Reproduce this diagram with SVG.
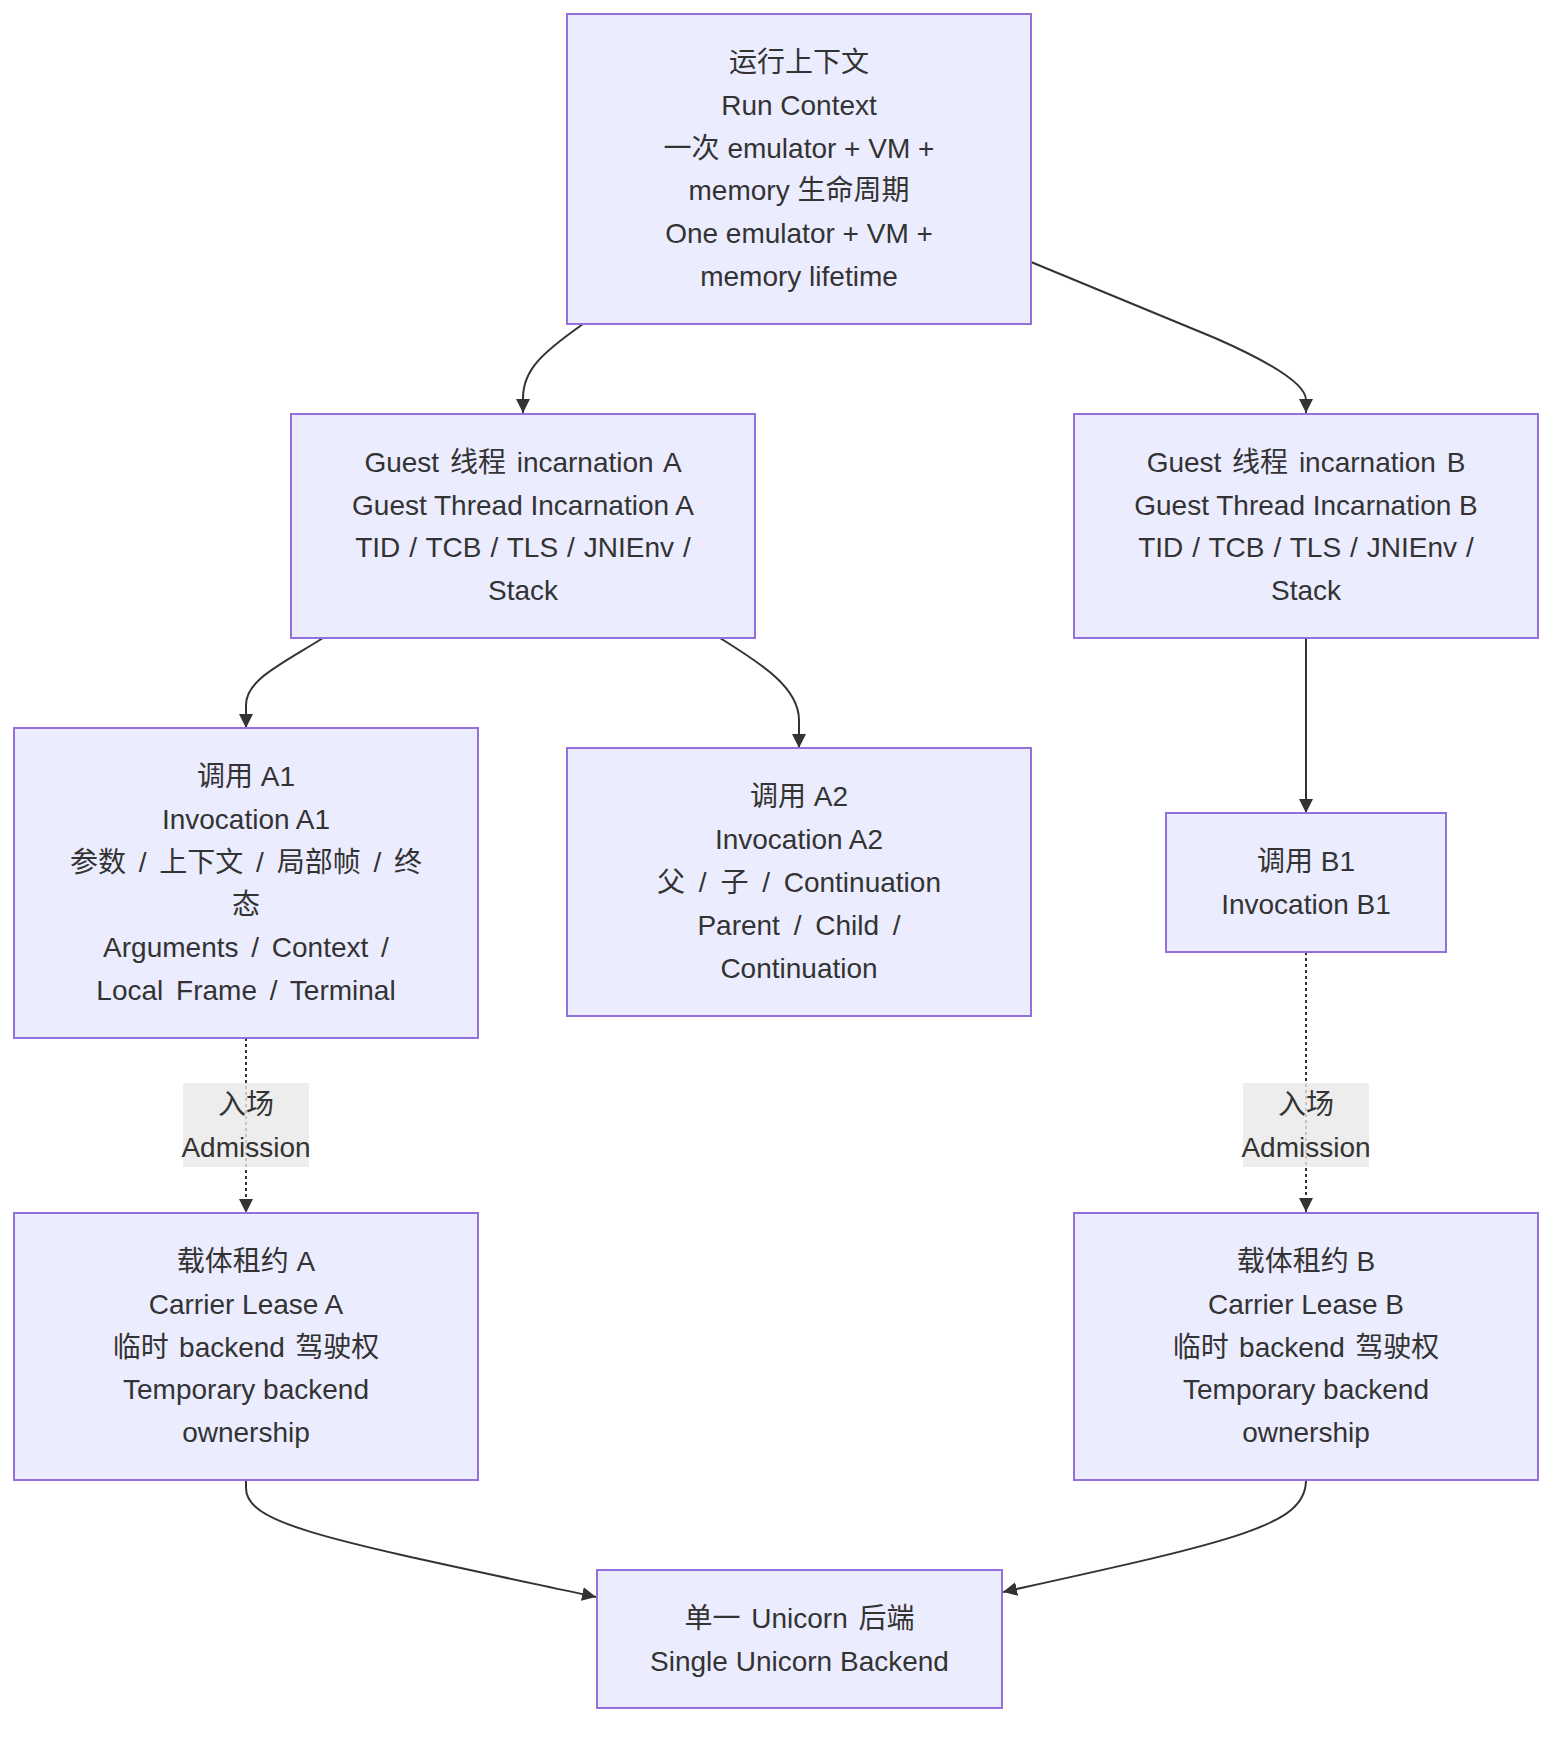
<svg xmlns="http://www.w3.org/2000/svg" width="1568" height="1742" viewBox="0 0 1568 1742">
<defs>
<style>
.node rect{fill:#ECECFF;stroke:#9370DB;stroke-width:2}
text{font-family:"Liberation Sans","Noto Sans CJK SC",sans-serif;font-size:28px;fill:#333333;text-anchor:middle}
.edge{fill:none;stroke:#333333;stroke-width:2}
.dotted{stroke-dasharray:3 3}
.lbl rect{fill:rgba(232,232,232,0.8);stroke:none}
.ws1{word-spacing:1.2px}
.ws2{word-spacing:2.5px}
.ws3{word-spacing:3px}
.ws5{word-spacing:5px}
.ws6{word-spacing:6px}
</style>
<marker id="arrow" viewBox="0 0 10 10" refX="10" refY="5" markerUnits="userSpaceOnUse" markerWidth="14" markerHeight="14" orient="auto">
<path d="M0,0 L10,5 L0,10 z" fill="#333333"/>
</marker>
</defs>
<rect width="1568" height="1742" fill="#ffffff"/>

<g id="connectors">
<path class="edge" d="M583,324 C542,353 523,370 523,398 L523,413" marker-end="url(#arrow)"/>
<path class="edge" d="M1031,262 L1215,338 Q1306,378 1306,400 L1306,413" marker-end="url(#arrow)"/>
<path class="edge" d="M323,638 C280,665 246,680 246,705 L246,728" marker-end="url(#arrow)"/>
<path class="edge" d="M720,638 C762,664 799,688 799,720 L799,748" marker-end="url(#arrow)"/>
<path class="edge" d="M1306,638 L1306,813" marker-end="url(#arrow)"/>
<path class="edge dotted" d="M246,1038 L246,1213" marker-end="url(#arrow)"/>
<path class="edge dotted" d="M1306,952 L1306,1212" marker-end="url(#arrow)"/>
<path class="edge" d="M246,1480 L246,1488 C246,1525 330,1540 596,1597" marker-end="url(#arrow)"/>
<path class="edge" d="M1306,1480 C1306,1525 1240,1540 1003,1592" marker-end="url(#arrow)"/>
<g class="lbl" id="label-admission-a">
<rect x="183" y="1083" width="126" height="84"/>
<text x="246" y="1113.5">入场</text>
<text x="246" y="1156.5">Admission</text>
</g>
<g class="lbl" id="label-admission-b">
<rect x="1243" y="1083" width="126" height="84"/>
<text x="1306" y="1113.5">入场</text>
<text x="1306" y="1156.5">Admission</text>
</g>
</g>

<g class="node" id="run-context">
<rect x="567" y="14" width="464" height="310"/>
<text x="799" y="71.7">运行上下文</text>
<text x="799" y="114.6">Run Context</text>
<text x="799" y="157.6">一次 emulator + VM +</text>
<text x="799" y="200.4">memory 生命周期</text>
<text x="799" y="243.3">One emulator + VM +</text>
<text x="799" y="286.2">memory lifetime</text>
</g>

<g class="node" id="guest-a">
<rect x="291" y="414" width="464" height="224"/>
<text class="ws3" x="523" y="471.6">Guest 线程 incarnation A</text>
<text x="523" y="514.5">Guest Thread Incarnation A</text>
<text class="ws1" x="523" y="557.4">TID / TCB / TLS / JNIEnv /</text>
<text x="523" y="600.3">Stack</text>
</g>

<g class="node" id="guest-b">
<rect x="1074" y="414" width="464" height="224"/>
<text class="ws3" x="1306" y="471.6">Guest 线程 incarnation B</text>
<text x="1306" y="514.5">Guest Thread Incarnation B</text>
<text class="ws1" x="1306" y="557.4">TID / TCB / TLS / JNIEnv /</text>
<text x="1306" y="600.3">Stack</text>
</g>

<g class="node" id="invocation-a1">
<rect x="14" y="728" width="464" height="310"/>
<text x="246" y="785.7">调用 A1</text>
<text x="246" y="828.6">Invocation A1</text>
<text class="ws5" x="246" y="871.5">参数 / 上下文 / 局部帧 / 终</text>
<text x="246" y="914.4">态</text>
<text class="ws5" x="246" y="957.3">Arguments / Context /</text>
<text class="ws5" x="246" y="1000.2">Local Frame / Terminal</text>
</g>

<g class="node" id="invocation-a2">
<rect x="567" y="748" width="464" height="268"/>
<text x="799" y="806.2">调用 A2</text>
<text x="799" y="849.1">Invocation A2</text>
<text class="ws6" x="799" y="892">父 / 子 / Continuation</text>
<text class="ws6" x="799" y="934.9">Parent / Child /</text>
<text x="799" y="977.8">Continuation</text>
</g>

<g class="node" id="invocation-b1">
<rect x="1166" y="813" width="280" height="139"/>
<text x="1306" y="871">调用 B1</text>
<text x="1306" y="914">Invocation B1</text>
</g>

<g class="node" id="carrier-a">
<rect x="14" y="1213" width="464" height="267"/>
<text x="246" y="1270.7">载体租约 A</text>
<text x="246" y="1313.6">Carrier Lease A</text>
<text class="ws2" x="246" y="1356.5">临时 backend 驾驶权</text>
<text x="246" y="1399.4">Temporary backend</text>
<text x="246" y="1442.3">ownership</text>
</g>

<g class="node" id="carrier-b">
<rect x="1074" y="1213" width="464" height="267"/>
<text x="1306" y="1270.7">载体租约 B</text>
<text x="1306" y="1313.6">Carrier Lease B</text>
<text class="ws2" x="1306" y="1356.5">临时 backend 驾驶权</text>
<text x="1306" y="1399.4">Temporary backend</text>
<text x="1306" y="1442.3">ownership</text>
</g>

<g class="node" id="unicorn-backend">
<rect x="597" y="1570" width="405" height="138"/>
<text class="ws3" x="799.5" y="1627.5">单一 Unicorn 后端</text>
<text x="799.5" y="1670.5">Single Unicorn Backend</text>
</g>
</svg>
